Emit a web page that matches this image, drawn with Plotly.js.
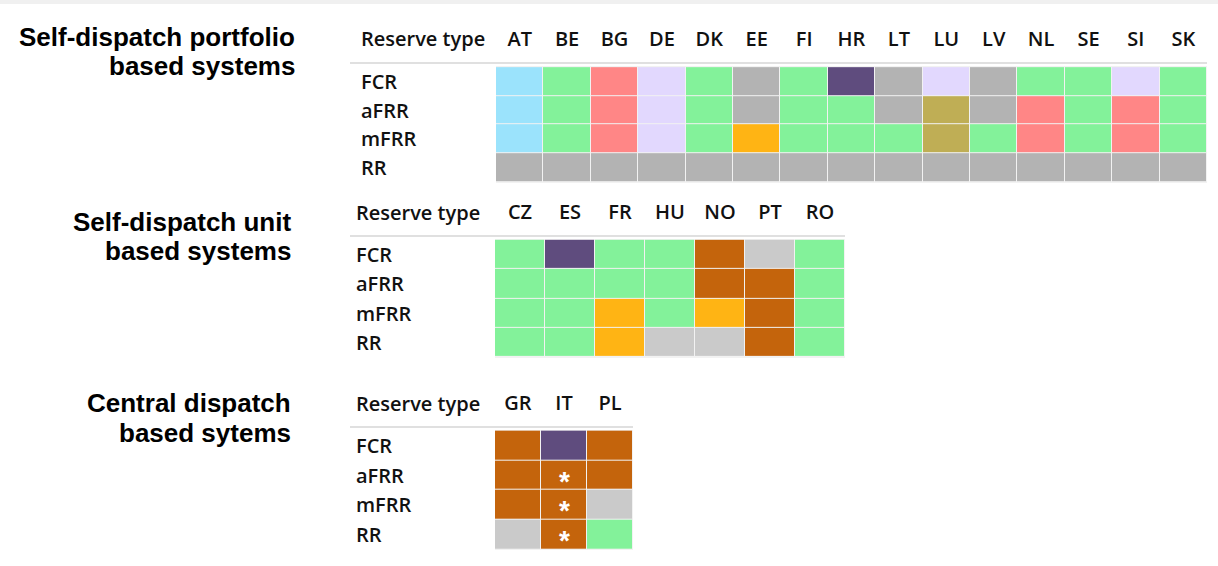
<!DOCTYPE html>
<html>
<head>
<meta charset="utf-8">
<script src="https://cdn.plot.ly/plotly-3.0.1.min.js"></script>
<style>html,body{margin:0;padding:0;background:#fff;}#chart{width:1218px;height:566px;}</style>
</head>
<body>
<div id="chart"></div>
<script>
// ---------- DATA ----------
const reserveTypes = ['FCR', 'aFRR', 'mFRR', 'RR'];
const headerLabel = 'Reserve type';

// Panel 1: self-dispatch portfolio based systems
const p1Title = ['Self-dispatch portfolio', 'based systems'];
const p1Countries = ['AT','BE','BG','DE','DK','EE','FI','HR','LT','LU','LV','NL','SE','SI','SK'];
const p1FCR  = ['blue','green','red','lav','green','gray','green','purple','gray','lav','gray','green','green','lav','green'];
const p1aFRR = ['blue','green','red','lav','green','gray','green','green','gray','olive','gray','red','green','red','green'];
const p1mFRR = ['blue','green','red','lav','green','orange','green','green','green','olive','green','red','green','red','green'];
const p1RR   = ['gray','gray','gray','gray','gray','gray','gray','gray','gray','gray','gray','gray','gray','gray','gray'];

// Panel 2: self-dispatch unit based systems
const p2Title = ['Self-dispatch unit', 'based systems'];
const p2Countries = ['CZ','ES','FR','HU','NO','PT','RO'];
const p2FCR  = ['green','purple','green','green','brown','lgray','green'];
const p2aFRR = ['green','green','green','green','brown','brown','green'];
const p2mFRR = ['green','green','orange','green','orange','brown','green'];
const p2RR   = ['green','green','orange','lgray','lgray','brown','green'];

// Panel 3: central dispatch based systems
const p3Title = ['Central dispatch', 'based sytems'];
const p3Countries = ['GR','IT','PL'];
const p3FCR  = ['brown','purple','brown'];
const p3aFRR = ['brown','brown','brown'];
const p3mFRR = ['brown','brown','lgray'];
const p3RR   = ['lgray','brown','green'];
const p3MarkCountry = ['IT','IT','IT'];
const p3MarkReserve = ['aFRR','mFRR','RR'];
const markSymbol = '*';

// ---------- STYLE ----------
const statusKeys = ['blue','green','red','lav','gray','purple','olive','orange','brown','lgray'];
const statusColors = ['#9be3fc','#83f29a','#ff8686','#e2d8fe','#b3b3b3','#5f4c7e','#bfae55','#ffb414','#c4640c','#cacaca'];

const W = 1218, H = 566;
const px = x => x / W;
const py = y => 1 - y / H;

const colorscale = [];
statusColors.forEach((c, i) => {
  colorscale.push([i / statusColors.length, c]);
  colorscale.push([(i + 1) / statusColors.length, c]);
});

const labelFont = {family: '"Open Sans", Lato, sans-serif', size: 20, color: '#111111', weight: 600};
const titleFont = {family: '"Liberation Sans", Arial, sans-serif', size: 26, color: '#000', weight: 'bold'};

function zOf(rows) { return rows.map(r => r.map(k => statusKeys.indexOf(k))); }

const panels = [
  {title: p1Title, countries: p1Countries, rows: [p1FCR, p1aFRR, p1mFRR, p1RR],
   gx: [496, 1207], gy: [66, 183], labelX: 359, headY: 38, titleX: 297, titleY: [37, 66]},
  {title: p2Title, countries: p2Countries, rows: [p2FCR, p2aFRR, p2mFRR, p2RR],
   gx: [495, 845], gy: [239, 358], labelX: 354, headY: 212, titleX: 293, titleY: [222, 251]},
  {title: p3Title, countries: p3Countries, rows: [p3FCR, p3aFRR, p3mFRR, p3RR],
   gx: [495, 633], gy: [430, 550], labelX: 354, headY: 403, titleX: 293, titleY: [403, 433]}
];

const data = [];
const layout = {
  width: W, height: H,
  margin: {l: 0, r: 0, t: 0, b: 0},
  paper_bgcolor: '#ffffff',
  plot_bgcolor: '#f2f2f2',
  showlegend: false,
  annotations: [],
  shapes: [
    {type: 'rect', xref: 'paper', yref: 'paper', x0: 0, x1: 1, y0: py(4), y1: 1, fillcolor: '#f0f0f0', line: {width: 0}, layer: 'below'}
  ]
};

panels.forEach((p, i) => {
  const n = i === 0 ? '' : String(i + 1);
  const xa = 'x' + n, ya = 'y' + n;
  data.push({
    type: 'heatmap',
    x: p.countries, y: reserveTypes,
    z: zOf(p.rows),
    zmin: -0.5, zmax: statusColors.length - 0.5,
    colorscale: colorscale,
    showscale: false,
    xgap: 1, ygap: 1,
    hoverinfo: 'skip',
    xaxis: xa, yaxis: ya
  });

  layout['xaxis' + n] = {
    domain: [px(p.gx[0]), px(p.gx[1])], anchor: ya, side: 'top', type: 'category',
    showgrid: false, zeroline: false, showline: false, ticks: '',
    tickfont: labelFont, ticklabelstandoff: 15, fixedrange: true
  };
  layout['yaxis' + n] = {
    domain: [py(p.gy[1]), py(p.gy[0])], anchor: xa, type: 'category',
    autorange: 'reversed', showgrid: false, zeroline: false, showline: false,
    showticklabels: false, ticks: '', fixedrange: true
  };

  layout.annotations.push({xref: 'paper', yref: 'paper', x: px(p.labelX), y: py(p.headY),
    xanchor: 'left', yanchor: 'middle', text: headerLabel, showarrow: false, font: labelFont});
  reserveTypes.forEach(r => {
    layout.annotations.push({xref: 'paper', yref: ya, x: px(p.labelX), y: r,
      xanchor: 'left', yanchor: 'middle', text: r, showarrow: false, font: labelFont});
  });
  p.title.forEach((t, k) => {
    layout.annotations.push({xref: 'paper', yref: 'paper', x: px(p.titleX), y: py(p.titleY[k]),
      xanchor: 'right', yanchor: 'middle', text: t, showarrow: false, font: titleFont});
  });
  layout.shapes.push({type: 'line', xref: 'paper', yref: 'paper',
    x0: px(350), x1: px(p.gx[1]), y0: py(p.gy[0] - 3), y1: py(p.gy[0] - 3),
    line: {color: '#e0e0e0', width: 2}});
});

// asterisk marks in panel 3
p3MarkCountry.forEach((c, k) => {
  layout.annotations.push({xref: 'x3', yref: 'y3', x: c, y: p3MarkReserve[k],
    text: markSymbol, showarrow: false, yshift: -6,
    font: {family: '"Liberation Sans", Arial, sans-serif', size: 28, color: '#ffffff', weight: 'bold'}});
});

Plotly.newPlot('chart', data, layout, {displayModeBar: false, staticPlot: true});
</script>
</body>
</html>
